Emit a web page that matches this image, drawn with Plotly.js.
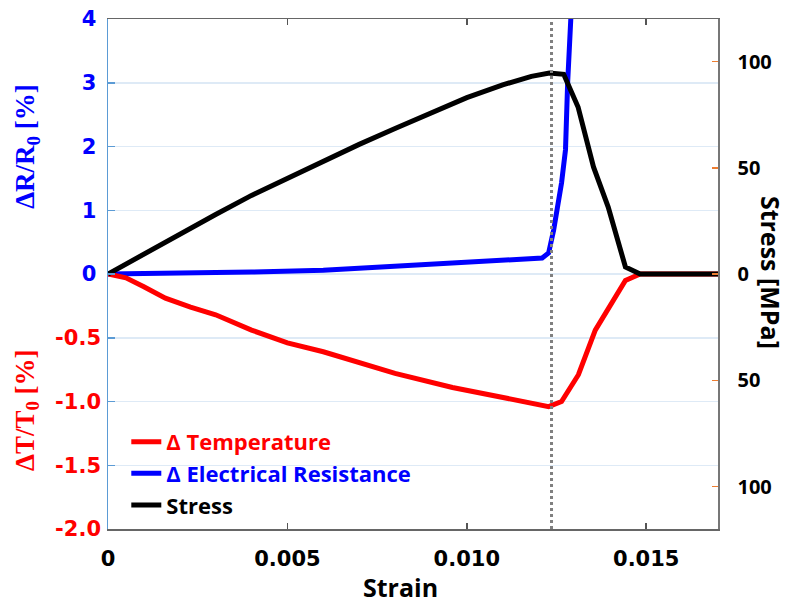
<!DOCTYPE html>
<html>
<head>
<meta charset="utf-8">
<script src="https://cdn.plot.ly/plotly-3.0.1.min.js"></script>
<style>html,body{margin:0;padding:0;background:#fff;}</style>
</head>
<body>
<div id="chart" style="width:802px;height:603px;"></div>
<script>
// ---- Data ----
const stressStrain = [0, 0.001, 0.002, 0.003, 0.004, 0.005, 0.006, 0.007, 0.008, 0.009, 0.010, 0.011, 0.0118, 0.0123, 0.0127, 0.0131, 0.01353, 0.01394, 0.01442, 0.01483, 0.017];
const stressMPa    = [0, 9.5, 19, 28, 37, 45, 53.5, 61, 68.5, 76, 83, 89, 93, 94.6, 94, 78.6, 50.4, 31.5, 3.3, 0, 0];

const resStrain = [0, 0.002, 0.004, 0.006, 0.008, 0.010, 0.0117, 0.0121, 0.01228, 0.01242, 0.01264, 0.01275, 0.01281, 0.01289, 0.01295];
const resPct    = [0, 0.01, 0.03, 0.06, 0.12, 0.18, 0.22, 0.25, 0.33, 0.69, 1.43, 1.95, 3.0, 3.8, 4.6];

const tempStrain = [0, 0.0005, 0.001, 0.0016, 0.0023, 0.003, 0.004, 0.005, 0.006, 0.007, 0.008, 0.0096, 0.011, 0.012, 0.01228, 0.01264, 0.01311, 0.01358, 0.01394, 0.01442, 0.01483, 0.017];
const tempPct    = [0, -0.03, -0.10, -0.19, -0.26, -0.32, -0.44, -0.54, -0.61, -0.70, -0.78, -0.89, -0.97, -1.03, -1.04, -1.00, -0.79, -0.44, -0.28, -0.05, 0, 0];

const failureStrain = 0.01236;

const xTickVals = [0, 0.005, 0.010, 0.015];
const xTickText = ["0", "0.005", "0.010", "0.015"];
const resTickVals = [0, 1, 2, 3, 4];
const resTickText = ["0", "1", "2", "3", "4"];
const tempTickVals = [-0.5, -1.0, -1.5, -2.0];
const tempTickText = ["-0.5", "-1.0", "-1.5", "-2.0"];
const stressTickVals = [-100, -50, 0, 50, 100];
const stressTickText = ["100", "50", "0", "50", "100"];

const seriesNames = ["Δ Temperature", "Δ Electrical Resistance", "Stress"];

// ---- Styling ----
const RED = "#ff0000", BLUE = "#0000ff", BLACK = "#000000";
const AXBLUE = "#5b9bd5", GRID = "#deeaf6";

const traces = [
  {x: tempStrain, y: tempPct, yaxis: "y2", mode: "lines",
   name: '<span style="color:' + RED + '">' + seriesNames[0] + '</span>',
   line: {color: RED, width: 5}},
  {x: resStrain, y: resPct, yaxis: "y", mode: "lines",
   name: '<span style="color:' + BLUE + '">' + seriesNames[1] + '</span>',
   line: {color: BLUE, width: 5}},
  {x: stressStrain, y: stressMPa, yaxis: "y3", mode: "lines",
   name: '<span style="color:' + BLACK + '">' + seriesNames[2] + '</span>',
   line: {color: BLACK, width: 5}}
];

const tickFontL = {family: "DejaVu Sans", size: 21, weight: "bold"};

const layout = {
  width: 802, height: 603,
  margin: {l: 108, r: 84, t: 19, b: 74},
  paper_bgcolor: "#fff", plot_bgcolor: "#fff",
  showlegend: true,
  legend: {x: 0.03, y: 0.006, xanchor: "left", yanchor: "bottom",
           bgcolor: "rgba(0,0,0,0)", borderwidth: 0, tracegroupgap: 0,
           font: {family: "Open Sans", size: 22, weight: "bold", color: BLACK}},
  xaxis: {range: [0, 0.017], tickvals: xTickVals, ticktext: xTickText,
          ticks: "inside", ticklen: 6, tickwidth: 1.5, tickcolor: "#555",
          showline: true, linecolor: "#666", linewidth: 1.5, mirror: "ticks",
          showgrid: false, zeroline: false, ticklabelstandoff: 10,
          tickfont: Object.assign({color: BLACK}, tickFontL)},
  yaxis: {range: [-4, 4], tickvals: resTickVals, ticktext: resTickText,
          ticks: "inside", ticklen: 7, tickwidth: 1.5, tickcolor: AXBLUE,
          showline: true, linecolor: AXBLUE, linewidth: 1.5,
          showgrid: true, gridcolor: GRID, gridwidth: 1.5, zeroline: false,
          ticklabelstandoff: 6,
          tickfont: Object.assign({color: BLUE}, tickFontL)},
  yaxis2: {overlaying: "y", side: "left", range: [-2, 2],
          tickvals: tempTickVals, ticktext: tempTickText,
          ticks: "inside", ticklen: 7, tickwidth: 1.5, tickcolor: AXBLUE,
          showline: false, showgrid: true, gridcolor: GRID, gridwidth: 1.5, zeroline: false,
          ticklabelstandoff: 6,
          tickfont: Object.assign({color: RED}, tickFontL)},
  yaxis3: {overlaying: "y", side: "right", range: [-120, 120],
          tickvals: stressTickVals, ticktext: stressTickText,
          ticks: "inside", ticklen: 6, tickwidth: 1.5, tickcolor: "#ed7d31",
          showline: true, linecolor: "#777", linewidth: 1.5,
          showgrid: false, zeroline: false, ticklabelstandoff: 14,
          tickfont: {family: "Open Sans", size: 20, weight: "bold", color: BLACK}},
  shapes: [
    {type: "line", xref: "x", yref: "paper", x0: failureStrain, x1: failureStrain, y0: 0, y1: 1,
     line: {color: "#808080", width: 3, dash: "3px,3px"}}
  ],
  annotations: [
    {text: "ΔR/R<sub>0</sub> [%]", xref: "paper", yref: "paper", x: -0.133, y: 0.751,
     xanchor: "center", yanchor: "middle", textangle: -90, showarrow: false,
     font: {family: "Liberation Serif", size: 27, weight: "bold", color: BLUE}},
    {text: "ΔT/T<sub>0</sub> [%]", xref: "paper", yref: "paper", x: -0.133, y: 0.233,
     xanchor: "center", yanchor: "middle", textangle: -90, showarrow: false,
     font: {family: "Liberation Serif", size: 27, weight: "bold", color: RED}},
    {text: "Stress [MPa]", xref: "paper", yref: "paper", x: 1.087, y: 0.504,
     xanchor: "center", yanchor: "middle", textangle: 90, showarrow: false,
     font: {family: "Open Sans", size: 25, weight: "bold", color: BLACK}},
    {text: "Strain", xref: "paper", yref: "paper", x: 0.479, y: -0.114,
     xanchor: "center", yanchor: "middle", showarrow: false,
     font: {family: "Open Sans", size: 25, weight: "bold", color: BLACK}}
  ]
};

Plotly.newPlot("chart", traces, layout, {displayModeBar: false, staticPlot: true});
</script>
</body>
</html>
